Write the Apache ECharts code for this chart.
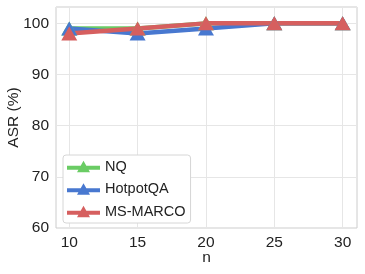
<!DOCTYPE html>
<html><head><meta charset="utf-8">
<script src="https://cdn.jsdelivr.net/npm/echarts@6/dist/echarts.min.js"></script>
<style>html,body{margin:0;padding:0;background:#fff}#c{width:365px;height:274px}</style>
</head><body><div id="c"></div>
<script>
const nValues = [10, 15, 20, 25, 30];
const nq = [99, 99, 100, 100, 100];
const hotpotqa = [99, 98, 99, 100, 100];
const msmarco = [98, 99, 100, 100, 100];
const xTicks = [10, 15, 20, 25, 30];
const FONT = '"Liberation Sans", Arial, sans-serif';
const chart = echarts.init(document.getElementById('c'));
function mk(name, vals, color) {
  return {
    name, type: 'line', data: nValues.map((x, i) => [x, vals[i]]),
    symbol: 'triangle', symbolSize: [16, 14],
    lineStyle: { width: 4.5, color }, itemStyle: { color },
    z: 2, animation: false
  };
}
const ICON = 'path://M0,5 L33,5 L33,9 L0,9 Z M16.5,0 L23,11.5 L10,11.5 Z';
const legendItem = (name, color) => ({ name, icon: ICON, itemStyle: { color } });
chart.setOption({
  animation: false,
  grid: { left: 56, right: 8, top: 7, bottom: 46, show: true, borderColor: '#cccccc', borderWidth: 1, outerBoundsMode: 'none', containLabel: false },
  xAxis: {
    type: 'value', min: 9.03, max: 31.05,
    name: 'n', nameLocation: 'middle', nameGap: 22, nameMoveOverlap: false,
    nameTextStyle: { fontFamily: FONT, fontSize: 15.5, color: '#222' },
    axisLine: { show: false }, axisTick: { show: false, customValues: xTicks },
    axisLabel: { customValues: xTicks, fontFamily: FONT, fontSize: 15.5, color: '#222', margin: 7 },
    splitLine: { show: true, lineStyle: { color: '#e6e6e6', width: 1 } }
  },
  yAxis: {
    type: 'value', min: 60, max: 103.2, interval: 10,
    name: 'ASR (%)', nameLocation: 'middle', nameGap: 34, nameMoveOverlap: false,
    nameTextStyle: { fontFamily: FONT, fontSize: 15.5, color: '#222' },
    axisLine: { show: false }, axisTick: { show: false },
    axisLabel: { fontFamily: FONT, fontSize: 15.5, color: '#222', margin: 7, showMaxLabel: false },
    splitLine: { show: true, lineStyle: { color: '#e6e6e6', width: 1 } }
  },
  legend: {
    orient: 'vertical', left: 63, top: 155,
    backgroundColor: '#fff', borderColor: '#d6d6d6', borderWidth: 1, borderRadius: 3,
    padding: [4, 5, 4, 4], itemGap: 7.5, itemWidth: 33, itemHeight: 14,
    textStyle: { fontFamily: FONT, fontSize: 14.5, color: '#222' },
    data: [legendItem('NQ', '#6acc64'), legendItem('HotpotQA', '#4878d0'), legendItem('MS-MARCO', '#d65f5f')]
  },
  series: [
    mk('NQ', nq, '#6acc64'),
    mk('HotpotQA', hotpotqa, '#4878d0'),
    mk('MS-MARCO', msmarco, '#d65f5f')
  ]
});
</script></body></html>
